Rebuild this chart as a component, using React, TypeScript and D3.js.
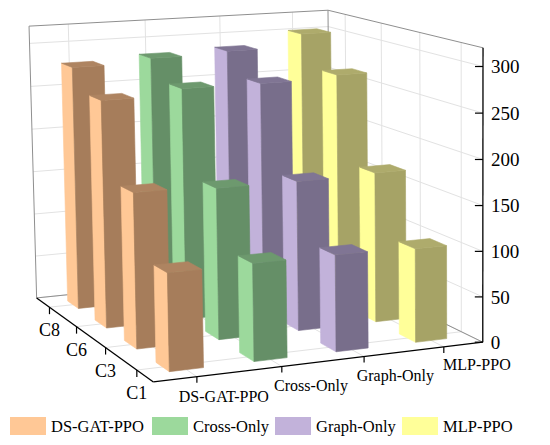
import { useEffect, useRef } from "react";
import * as d3 from "d3";

const categories = ["DS-GAT-PPO", "Cross-Only", "Graph-Only", "MLP-PPO"];
const cases = ["C1", "C3", "C6", "C8"];
const dsGatPpo = [104, 170, 255, 279];
const crossOnly = [105, 167, 262, 284];
const graphOnly = [105, 167, 262, 287];
const mlpPpo = [103, 169, 266, 302];
const zTicks = [0, 50, 100, 150, 200, 250, 300];

const seriesValues = [dsGatPpo, crossOnly, graphOnly, mlpPpo];
const lightColors = ["#FFC896", "#9CD99C", "#C2B2DA", "#FFFF99"];
const frontColors = ["#A67D5B", "#658F67", "#786E8B", "#A6A366"];
const topColors = ["#AE8461", "#6D996E", "#807594", "#AEAB6C"];

const W = 550;
const H = 445;
const FONT = "'Liberation Serif', 'Times New Roman', serif";

// box corners (u, v, w in 0..1) -> screen, used to fit a camera
const anchors: [number, number, number, number, number][] = [
  [0, 0, 0, 153, 382],
  [1, 0, 0, 483, 342],
  [0, 1, 0, 37, 298],
  [1, 1, 0, 330, 268],
  [1, 0, 1, 483, 48],
  [0, 1, 1, 29, 26],
  [1, 1, 1, 328, 10],
  [1, 0, 300 / 320, 483, 67],
  [1, 0, 150 / 320, 483, 205],
];

function fitCamera(pts: typeof anchors) {
  const n = 11;
  const M = Array.from({ length: n }, () => new Array(n + 1).fill(0));
  const addRow = (row: number[], rhs: number) => {
    for (let i = 0; i < n; i++) {
      for (let j = 0; j < n; j++) M[i][j] += row[i] * row[j];
      M[i][n] += row[i] * rhs;
    }
  };
  for (const [X, Y, Z, x, y] of pts) {
    addRow([X, Y, Z, 1, 0, 0, 0, 0, -x * X, -x * Y, -x * Z], x);
    addRow([0, 0, 0, 0, X, Y, Z, 1, -y * X, -y * Y, -y * Z], y);
  }
  for (let c = 0; c < n; c++) {
    let piv = c;
    for (let r = c + 1; r < n; r++) if (Math.abs(M[r][c]) > Math.abs(M[piv][c])) piv = r;
    [M[c], M[piv]] = [M[piv], M[c]];
    for (let r = 0; r < n; r++) {
      if (r === c) continue;
      const f = M[r][c] / M[c][c];
      for (let k = c; k <= n; k++) M[r][k] -= f * M[c][k];
    }
  }
  return M.map((row, i) => row[n] / row[i]);
}

export default function App() {
  const svgRef = useRef<SVGSVGElement>(null);

  useEffect(() => {
    if (!svgRef.current) return;
    const svg = d3.select(svgRef.current);
    svg.selectAll("*").remove();

    const p = fitCamera(anchors);
    const proj = (u: number, v: number, w: number): [number, number] => {
      const d = p[8] * u + p[9] * v + p[10] * w + 1;
      return [
        (p[0] * u + p[1] * v + p[2] * w + p[3]) / d,
        (p[4] * u + p[5] * v + p[6] * w + p[7]) / d,
      ];
    };

    const xScale = d3.scaleBand().domain(categories).range([0, 1]).paddingInner(0.6).paddingOuter(0.3);
    const yScale = d3.scaleBand().domain(cases).range([0, 1]).paddingInner(0.6).paddingOuter(0.3);
    const zScale = d3.scaleLinear().domain([0, 320]).range([0, 1]);

    const line = d3.line();
    const poly = (pts: [number, number][]) => line(pts) + "Z";
    const seg = (a: [number, number, number], b: [number, number, number], stroke: string, sw = 1) =>
      svg
        .append("path")
        .attr("d", line([proj(...a), proj(...b)]))
        .attr("stroke", stroke)
        .attr("stroke-width", sw)
        .attr("fill", "none");

    const xc = (c: string) => (xScale(c) ?? 0) + xScale.bandwidth() / 2;
    const yc = (c: string) => (yScale(c) ?? 0) + yScale.bandwidth() / 2;

    // grid
    const grid = "#e2e2e2";
    zTicks.forEach((t) => {
      const w = zScale(t);
      seg([0, 1, w], [1, 1, w], grid);
      seg([1, 1, w], [1, 0, w], grid);
    });
    categories.forEach((c) => {
      seg([xc(c), 1, 0], [xc(c), 1, 1], grid);
      seg([xc(c), 0, 0], [xc(c), 1, 0], grid);
    });
    cases.forEach((c) => {
      seg([1, yc(c), 0], [1, yc(c), 1], grid);
      seg([0, yc(c), 0], [1, yc(c), 0], grid);
    });

    // frame
    const frame = "#8f8f8f";
    seg([0, 1, 1], [1, 1, 1], frame);
    seg([1, 1, 1], [1, 0, 1], frame);
    seg([0, 1, 0], [0, 1, 1], frame);
    seg([1, 1, 0], [1, 1, 1], frame);
    seg([0, 1, 0], [1, 1, 0], frame);
    seg([1, 1, 0], [1, 0, 0], frame);

    // bars, back rows first, right to left
    type Bar = { i: number; j: number; value: number };
    const bars: Bar[] = [];
    seriesValues.forEach((vals, i) => vals.forEach((value, j) => bars.push({ i, j, value })));
    bars.sort((a, b) => b.j - a.j || b.i - a.i);

    bars.forEach(({ i, j, value }) => {
      const u0 = xScale(categories[i]) ?? 0;
      const u1 = u0 + xScale.bandwidth();
      const v0 = yScale(cases[j]) ?? 0;
      const v1 = v0 + yScale.bandwidth();
      const h = zScale(value);
      const g = svg.append("g");
      const face = (pts: [number, number, number][], color: string) =>
        g
          .append("path")
          .attr("d", poly(pts.map((q) => proj(...q))))
          .attr("fill", color)
          .attr("stroke", color)
          .attr("stroke-width", 0.6)
          .attr("stroke-linejoin", "round");
      face([[u0, v0, 0], [u0, v1, 0], [u0, v1, h], [u0, v0, h]], lightColors[i]);
      face([[u0, v0, 0], [u1, v0, 0], [u1, v0, h], [u0, v0, h]], frontColors[i]);
      face([[u0, v0, h], [u1, v0, h], [u1, v1, h], [u0, v1, h]], topColors[i]);
    });

    // axes
    seg([0, 1, 0], [0, 0, 0], "#000", 1.3);
    seg([0, 0, 0], [1, 0, 0], "#000", 1.3);
    seg([1, 0, 0], [1, 0, 1], "#000", 1.3);

    zTicks.forEach((t) => {
      const [x, y] = proj(1, 0, zScale(t));
      svg.append("line").attr("x1", x - 8).attr("x2", x).attr("y1", y).attr("y2", y).attr("stroke", "#000").attr("stroke-width", 1.2);
      svg
        .append("text")
        .attr("x", x + 8)
        .attr("y", y)
        .attr("dy", "0.35em")
        .attr("font-family", FONT)
        .attr("font-size", 19)
        .text(t);
    });

    categories.forEach((c) => {
      const [x, y] = proj(xc(c), 0, 0);
      svg.append("line").attr("x1", x).attr("x2", x).attr("y1", y).attr("y2", y + 6).attr("stroke", "#000").attr("stroke-width", 1.2);
      const [lx, ly] = proj(xc(c), -0.2, 0);
      svg
        .append("text")
        .attr("x", lx - 2)
        .attr("y", ly)
        .attr("dy", "0.35em")
        .attr("text-anchor", "middle")
        .attr("font-family", FONT)
        .attr("font-size", 16)
        .text(c);
    });

    cases.forEach((c) => {
      const [x, y] = proj(0, yc(c), 0);
      svg.append("line").attr("x1", x).attr("x2", x).attr("y1", y).attr("y2", y + 7).attr("stroke", "#000").attr("stroke-width", 1.2);
      svg
        .append("text")
        .attr("x", x)
        .attr("y", y + 23)
        .attr("dy", "0.35em")
        .attr("text-anchor", "middle")
        .attr("font-family", FONT)
        .attr("font-size", 18)
        .text(c);
    });

    // legend
    const legendX = [10, 152, 275, 402];
    categories.forEach((c, i) => {
      svg.append("rect").attr("x", legendX[i]).attr("y", 417).attr("width", 36).attr("height", 18).attr("fill", lightColors[i]);
      svg
        .append("text")
        .attr("x", legendX[i] + 41)
        .attr("y", 426)
        .attr("dy", "0.35em")
        .attr("font-family", FONT)
        .attr("font-size", 16.5)
        .text(c);
    });
  }, []);

  return (
    <svg
      ref={svgRef}
      width={W}
      height={H}
      style={{ position: "absolute", left: 0, top: 0, background: "#fff" }}
    />
  );
}
